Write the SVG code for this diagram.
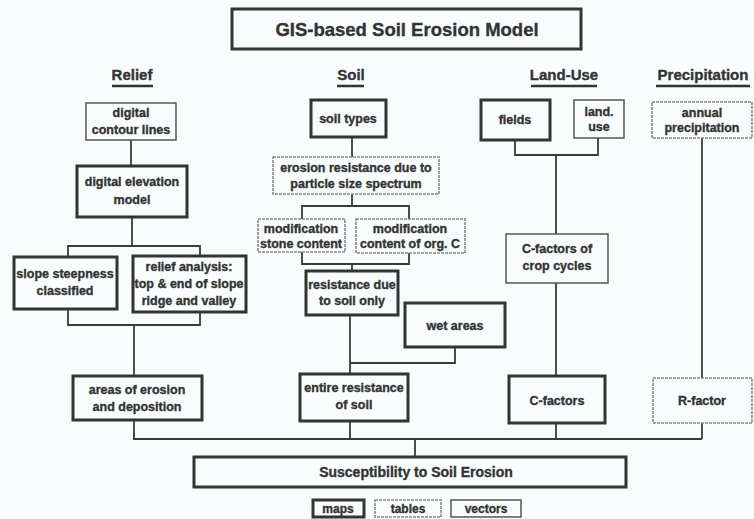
<svg xmlns="http://www.w3.org/2000/svg" width="754" height="519" viewBox="0 0 754 519">
<style>
.thick{fill:none;stroke:#333;stroke-width:3}
.thin{fill:none;stroke:#555;stroke-width:1.5}
.tab{fill:none;stroke:#888;stroke-width:1.6;stroke-dasharray:3 1}
.conn{fill:none;stroke:#3a3a3a;stroke-width:1.8}
.ul{stroke:#333;stroke-width:2.5}
text{font-family:"Liberation Sans",Arial,sans-serif;font-weight:bold;fill:#333;stroke:#333;stroke-width:0.35;text-anchor:middle}
.t{font-size:12.5px}
.h{font-size:15px}
.lg{font-size:12px}
</style>
<rect width="754" height="519" fill="#f8fcfc"/>
<g id="connectors">
<path class="conn" d="M131,140 V166"/>
<path class="conn" d="M132,217 V246"/>
<path class="conn" d="M68,257 V246 H200 V256"/>
<path class="conn" d="M68,309 V325 H200 V312"/>
<path class="conn" d="M134,325 V376"/>
<path class="conn" d="M134,420 V439"/>
<path class="conn" d="M133,439 H702"/>
<path class="conn" d="M415,439 V457"/>
<path class="conn" d="M352,137 V157"/>
<path class="conn" d="M352,194 V206"/>
<path class="conn" d="M302,219 V206 H409 V219"/>
<path class="conn" d="M302,252 V264 H409 V253"/>
<path class="conn" d="M352,264 V271"/>
<path class="conn" d="M350,315 V374"/>
<path class="conn" d="M455,347 V363 H350"/>
<path class="conn" d="M350,421 V439"/>
<path class="conn" d="M515,140 V155 H598 V138"/>
<path class="conn" d="M556,155 V234"/>
<path class="conn" d="M556,283 V376"/>
<path class="conn" d="M556,423 V439"/>
<path class="conn" d="M702,138 V378"/>
<path class="conn" d="M702,423 V439"/>
</g>
<g id="title">
<rect class="thick" x="232" y="9" width="349" height="40"/>
<text x="407" y="36" style="font-size:18.5px">GIS-based Soil Erosion Model</text>
</g>
<g id="heading-relief"><text class="h" x="132" y="80">Relief</text><line class="ul" x1="112" y1="86" x2="153" y2="86"/></g>
<g id="heading-soil"><text class="h" x="351" y="80">Soil</text><line class="ul" x1="337" y1="86" x2="364" y2="86"/></g>
<g id="heading-landuse"><text class="h" x="564" y="80">Land-Use</text><line class="ul" x1="531" y1="86" x2="597" y2="86"/></g>
<g id="heading-precip"><text class="h" x="703" y="80">Precipitation</text><line class="ul" x1="656" y1="86" x2="750" y2="86"/></g>

<g id="contour"><rect class="thin" x="86" y="103" width="90" height="37"/><text class="t" x="131" y="117">digital</text><text class="t" x="131" y="134">contour lines</text></g>
<g id="dem"><rect class="thick" x="77" y="166" width="110" height="51"/><text class="t" x="132" y="186">digital elevation</text><text class="t" x="132" y="204">model</text></g>
<g id="slope"><rect class="thick" x="14" y="257" width="103" height="52"/><text class="t" x="65" y="278">slope steepness</text><text class="t" x="65" y="295">classified</text></g>
<g id="reliefanalysis"><rect class="thick" x="133" y="256" width="113" height="56"/><text class="t" x="189" y="271">relief analysis:</text><text class="t" x="189" y="288">top &amp; end of slope</text><text class="t" x="189" y="305">ridge and valley</text></g>
<g id="areas"><rect class="thick" x="73" y="376" width="129" height="44"/><text class="t" x="137" y="394">areas of erosion</text><text class="t" x="137" y="411">and deposition</text></g>

<g id="soiltypes"><rect class="thick" x="311" y="100" width="75" height="37"/><text class="t" x="348" y="123">soil types</text></g>
<g id="erosionres"><rect class="tab" x="273" y="157" width="166" height="37"/><text class="t" x="356" y="172">erosion resistance due to</text><text class="t" x="356" y="188">particle size spectrum</text></g>
<g id="stone"><rect class="tab" x="258" y="219" width="87" height="33"/><text class="t" x="301" y="233">modification</text><text class="t" x="301" y="248">stone content</text></g>
<g id="orgc"><rect class="tab" x="356" y="219" width="109" height="34"/><text class="t" x="410" y="233">modification</text><text class="t" x="410" y="248">content of org. C</text></g>
<g id="soilonly"><rect class="thick" x="306" y="271" width="92" height="44"/><text class="t" x="352" y="289">resistance due</text><text class="t" x="352" y="305">to soil only</text></g>
<g id="wet"><rect class="thick" x="405" y="303" width="100" height="44"/><text class="t" x="455" y="330">wet areas</text></g>
<g id="entire"><rect class="thick" x="300" y="374" width="108" height="47"/><text class="t" x="354" y="392">entire resistance</text><text class="t" x="354" y="409">of soil</text></g>

<g id="fields"><rect class="thick" x="481" y="100" width="69" height="40"/><text class="t" x="515" y="124">fields</text></g>
<g id="landuse"><rect class="thin" x="574" y="100" width="50" height="38"/><text class="t" x="599" y="116">land.</text><text class="t" x="599" y="131">use</text></g>
<g id="cropcycles"><rect class="thin" x="506" y="234" width="102" height="49"/><text class="t" x="557" y="253">C-factors of</text><text class="t" x="557" y="270">crop cycles</text></g>
<g id="cfactors"><rect class="thick" x="509" y="376" width="96" height="47"/><text class="t" x="557" y="405">C-factors</text></g>

<g id="annual"><rect class="tab" x="652" y="102" width="100" height="36"/><text class="t" x="702" y="117">annual</text><text class="t" x="702" y="132">precipitation</text></g>
<g id="rfactor"><rect class="tab" x="653" y="378" width="99" height="45"/><text class="t" x="702" y="405">R-factor</text></g>

<g id="susceptibility"><rect class="thick" x="194" y="457" width="432" height="30"/><text x="416" y="477" style="font-size:14px">Susceptibility to Soil Erosion</text></g>

<g id="legend-maps"><rect class="thick" x="313" y="500" width="51" height="17"/><text class="lg" x="338" y="513">maps</text></g>
<g id="legend-tables"><rect class="tab" x="375" y="500" width="66" height="17"/><text class="lg" x="408" y="513">tables</text></g>
<g id="legend-vectors"><rect class="thin" x="451" y="500" width="70" height="17"/><text class="lg" x="486" y="513">vectors</text></g>
</svg>
